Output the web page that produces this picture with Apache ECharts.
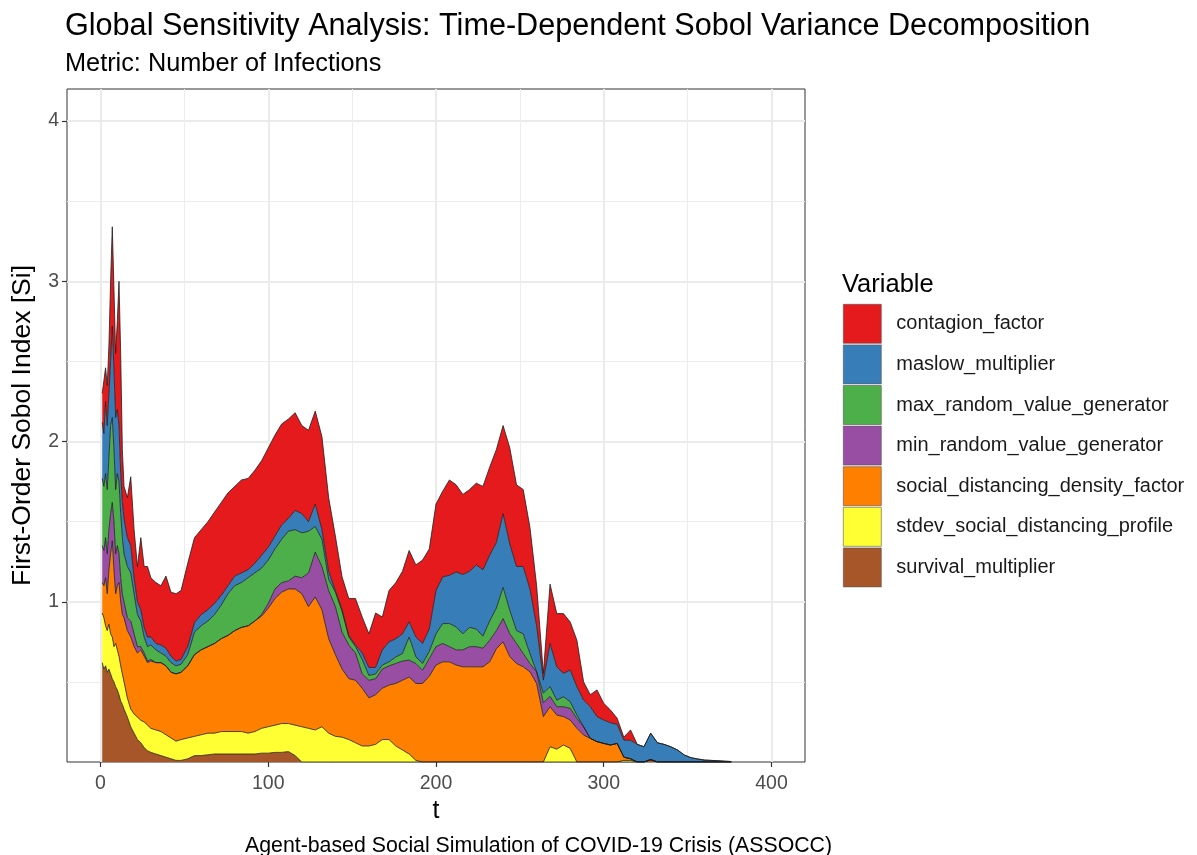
<!DOCTYPE html>
<html>
<head>
<meta charset="utf-8">
<script src="https://cdn.jsdelivr.net/npm/echarts@6.0.0/dist/echarts.min.js"></script>
<style>
html, body { margin: 0; padding: 0; background: #ffffff; }
#chart { width: 1197px; height: 855px; }
</style>
</head>
<body>
<div id="chart"></div>
<script>
// ---- time steps (t) ----
const tValues = [
  1,2,3,4,5,6,7,8,9,10,11,12,13,14,
  16,18,20,22,24,26,28,30,
  33,36,39,42,45,48,
  52,56,60,64,68,72,76,80,84,88,92,96,
  100,104,108,112,116,120,124,128,132,136,140,144,
  148,152,156,160,164,168,172,176,180,184,188,192,
  196,200,204,208,212,216,220,224,228,232,236,240,
  244,248,252,256,260,264,268,272,276,280,284,288,
  292,296,300,304,308,312,316,320,324,328,332,336,
  340,344,348,352,356,360,364,368,372,376
];

// ---- first-order Sobol index per variable ----
const survivalMultiplier = [
  .62,.58,.60,.56,.58,.55,.52,.50,.47,.45,.42,.38,.36,.33,
  .28,.22,.18,.14,.12,.09,.07,.06,
  .05,.04,.03,.02,.01,.01,
  .02,.04,.04,.045,.05,.05,.05,.05,.05,.05,.05,.055,
  .055,.06,.06,.065,.04,0,0,0,0,0,0,0,
  0,0,0,0,0,0,0,0,0,0,0,0,
  0,0,0,0,0,0,0,0,0,0,0,0,
  0,0,0,0,0,0,0,0,0,0,0,0,
  0,0,0,0,0,0,0,0,0,.015,0,0,
  0,0,0,0,0,0,0,0,0,0
];
const stdevSocialDistancingProfile = [
  .31,.32,.25,.26,.28,.25,.26,.22,.27,.25,.24,.22,.19,.17,
  .12,.11,.12,.14,.14,.16,.16,.15,
  .15,.15,.14,.13,.12,.13,
  .13,.12,.13,.135,.13,.14,.14,.14,.14,.13,.14,.155,
  .165,.17,.18,.175,.19,.22,.21,.20,.22,.18,.16,.155,
  .14,.12,.10,.10,.11,.14,.14,.10,.075,.05,.01,0,
  0,0,0,0,0,0,0,0,0,0,0,0,
  0,0,0,0,0,0,.095,.08,.106,.085,0,0,
  0,0,0,0,0,.01,.01,0,0,0,0,0,
  0,0,0,0,0,0,0,0,0,0
];
const socialDistancingDensityFactor = [
  .19,.20,.30,.23,.34,.50,.60,.48,.31,.40,.46,.40,.37,.40,
  .42,.45,.42,.40,.44,.41,.39,.42,
  .42,.43,.43,.41,.42,.42,
  .45,.51,.53,.54,.56,.58,.60,.63,.65,.67,.69,.70,
  .74,.79,.82,.84,.85,.83,.76,.83,.73,.59,.51,.425,
  .38,.39,.36,.30,.31,.32,.34,.39,.435,.48,.48,.49,
  .535,.605,.625,.625,.605,.594,.594,.594,.594,.625,.707,.75,
  .657,.615,.594,.563,.49,.283,.25,.213,.177,.177,.21,.168,
  .147,.127,.116,.106,.116,.02,.01,0,0,0,0,0,
  0,0,0,0,0,0,0,0,0,0
];
const minRandomValueGenerator = [
  .23,.22,.25,.25,.25,.25,.24,.30,.25,.25,.18,.15,.13,.10,
  .08,.10,.08,.04,.02,.02,.01,.01,
  0,0,0,0,0,0,
  0,0,0,0,0,0,0,0,0,0,0,.01,
  .03,.06,.06,.05,.08,.10,.21,.28,.27,.30,.30,.23,
  .21,.17,.09,.11,.10,.12,.12,.125,.12,.106,.125,.083,
  .111,.115,.115,.095,.095,.106,.126,.126,.116,.135,.113,.145,
  .143,.125,.083,.052,.073,.087,.065,.052,.062,.073,.062,.052,
  0,0,0,0,0,0,0,0,0,0,0,0,
  0,0,0,0,0,0,0,0,0,0
];
const maxRandomValueGenerator = [
  .42,.40,.40,.40,.45,.55,.53,.45,.40,.45,.45,.40,.35,.30,
  .32,.30,.25,.20,.16,.10,.09,.09,
  .08,.06,.06,.06,.05,.05,
  .07,.14,.15,.16,.18,.21,.26,.28,.28,.30,.30,.29,
  .27,.25,.27,.31,.29,.28,.26,.16,.17,.07,.09,.13,
  .05,.04,.09,.03,.03,.025,.025,.04,.047,.144,.041,.042,
  .044,.08,.124,.144,.143,.10,.12,.11,.075,.12,.14,.195,
  .147,.08,.123,.062,0,.06,.06,.041,.062,.041,.021,0,
  0,0,0,0,0,0,0,0,0,0,0,0,
  0,0,0,0,0,0,0,0,0,0
];
const maslowMultiplier = [
  .35,.33,.45,.40,.40,.40,.57,.50,.45,.40,.35,.25,.22,.22,
  .18,.17,.10,.08,.07,.06,.06,.05,
  .04,.05,.05,.04,.03,.03,
  .05,.06,.07,.07,.07,.06,.05,.06,.06,.05,.06,.08,
  .08,.08,.09,.08,.12,.12,.06,.14,.06,.05,.01,.01,
  .01,.01,.04,.05,.04,.095,.125,.114,.123,.095,.124,.125,
  .14,.27,.291,.301,.343,.37,.35,.40,.415,.41,.41,.46,
  .413,.40,.42,.403,.287,.081,.27,.208,.146,.198,.177,.166,
  .198,.156,.146,.139,.119,.107,.115,.11,.095,.165,.12,.11,
  .095,.075,.044,.027,.019,.012,.01,.008,.005,.003
];
const contagionFactor = [
  .18,.33,.21,.25,.30,.50,.62,.50,.40,.55,.90,.75,.33,.20,
  .25,.43,.30,.22,.45,.38,.44,.37,
  .38,.37,.45,.40,.42,.43,
  .52,.53,.53,.55,.57,.58,.58,.56,.58,.57,.58,.59,
  .62,.63,.63,.62,.61,.55,.57,.58,.58,.46,.34,.205,
  .23,.29,.225,.21,.34,.205,.32,.35,.39,.445,.45,.52,
  .50,.54,.535,.595,.544,.50,.51,.51,.52,.55,.58,.55,
  .60,.51,.48,.385,.25,.042,.37,.332,.373,.30,.29,.114,
  .075,.167,.104,.08,.038,.018,.065,0,0,0,0,0,
  0,0,0,0,0,0,0,0,0,0
];

// ---- labels ----
const variableNames = [
  'contagion_factor', 'maslow_multiplier', 'max_random_value_generator',
  'min_random_value_generator', 'social_distancing_density_factor',
  'stdev_social_distancing_profile', 'survival_multiplier'
];
const xTickValues = [0, 100, 200, 300, 400];
const xMinorValues = [50, 150, 250, 350];
const yTickValues = [1, 2, 3, 4];
const yMinorValues = [0.5, 1.5, 2.5, 3.5];

const titleText = 'Global Sensitivity Analysis: Time-Dependent Sobol Variance Decomposition';
const subtitleText = 'Metric: Number of Infections';
const captionText = 'Agent-based Social Simulation of COVID-19 Crisis (ASSOCC)';
const legendTitle = 'Variable';
const xTitle = 't';
const yTitle = 'First-Order Sobol Index [Si]';

// ---- build ----
const FONT = "'Liberation Sans', Arial, Helvetica, sans-serif";
const fills = {
  survival_multiplier: '#A65628',
  stdev_social_distancing_profile: '#FFFF33',
  social_distancing_density_factor: '#FF7F00',
  min_random_value_generator: '#984EA3',
  max_random_value_generator: '#4DAF4A',
  maslow_multiplier: '#377EB8',
  contagion_factor: '#E41A1C'
};
// stacking order: bottom first
const stackOrder = [
  ['survival_multiplier', survivalMultiplier],
  ['stdev_social_distancing_profile', stdevSocialDistancingProfile],
  ['social_distancing_density_factor', socialDistancingDensityFactor],
  ['min_random_value_generator', minRandomValueGenerator],
  ['max_random_value_generator', maxRandomValueGenerator],
  ['maslow_multiplier', maslowMultiplier],
  ['contagion_factor', contagionFactor]
];

// value first, t second, so that the stack is computed on the y (value) dimension
const series = stackOrder.map(([name, vals]) => ({
  name: name,
  type: 'line',
  stack: 'total',
  xAxisIndex: 0,
  yAxisIndex: 0,
  data: tValues.map((t, i) => [vals[i], t]),
  encode: { x: 1, y: 0 },
  symbol: 'none',
  showSymbol: false,
  smooth: false,
  lineStyle: { color: '#1e1e1e', width: 0.8 },
  areaStyle: { color: fills[name], opacity: 1 },
  itemStyle: { color: fills[name] },
  emphasis: { disabled: true },
  silent: true
}));

const majorGrid = { show: true, lineStyle: { color: '#ebebeb', width: 2 } };
const minorGrid = { show: true, lineStyle: { color: '#ededed', width: 1.1 } };

const chart = echarts.init(document.getElementById('chart'), null, { renderer: 'canvas' });
chart.setOption({
  animation: false,
  backgroundColor: '#ffffff',
  textStyle: { fontFamily: FONT },
  title: [
    { text: titleText, left: 65, top: 11, padding: 0,
      textStyle: { fontSize: 30.6, fontWeight: 'normal', color: '#000', fontFamily: FONT } },
    { text: subtitleText, left: 65, top: 52, padding: 0,
      textStyle: { fontSize: 25.3, fontWeight: 'normal', color: '#000', fontFamily: FONT } },
    { text: legendTitle, left: 842, top: 272, padding: 0,
      textStyle: { fontSize: 25.5, fontWeight: 'normal', color: '#000', fontFamily: FONT } },
    { text: captionText, left: 245, top: 836, padding: 0,
      textStyle: { fontSize: 21.3, fontWeight: 'normal', color: '#000', fontFamily: FONT } }
  ],
  legend: {
    data: variableNames,
    orient: 'vertical',
    left: 843,
    top: 304,
    padding: 0,
    icon: 'rect',
    itemWidth: 38,
    itemHeight: 39,
    itemGap: 1,
    selectedMode: false,
    itemStyle: { borderColor: '#555555', borderWidth: 0.6 },
    textStyle: { fontSize: 20, color: '#1a1a1a', fontFamily: FONT, padding: [0, 0, 0, 10] }
  },
  grid: {
    left: 67, top: 89, width: 738, height: 673,
    show: true, borderColor: '#333333', borderWidth: 1, backgroundColor: 'transparent'
  },
  xAxis: [
    {
      type: 'value', min: -20, max: 420,
      name: xTitle, nameLocation: 'middle', nameGap: 34,
      nameTextStyle: { fontSize: 25, color: '#000', fontFamily: FONT },
      axisLine: { show: false, onZero: false },
      axisTick: { show: true, length: 5, customValues: xTickValues, lineStyle: { color: '#333', width: 1.2 } },
      axisLabel: { show: true, customValues: xTickValues, margin: 12, fontSize: 19.5, color: '#4d4d4d', fontFamily: FONT },
      splitLine: majorGrid
    },
    {
      type: 'value', min: -20, max: 420, position: 'bottom',
      axisLine: { show: false, onZero: false },
      axisTick: { show: false, customValues: xMinorValues },
      axisLabel: { show: false, customValues: xMinorValues },
      splitLine: minorGrid
    }
  ],
  yAxis: [
    {
      type: 'value', min: 0, max: 4.2, position: 'left',
      name: yTitle, nameLocation: 'middle', nameGap: 31, nameRotate: 90,
      nameTextStyle: { fontSize: 26.5, color: '#000', fontFamily: FONT },
      axisLine: { show: false, onZero: false },
      axisTick: { show: true, length: 5, customValues: yTickValues, lineStyle: { color: '#333', width: 1.2 } },
      axisLabel: { show: true, customValues: yTickValues, margin: 8, fontSize: 19.5, color: '#4d4d4d', fontFamily: FONT },
      splitLine: majorGrid
    },
    {
      type: 'value', min: 0, max: 4.2, position: 'left',
      axisLine: { show: false, onZero: false },
      axisTick: { show: false, customValues: yMinorValues },
      axisLabel: { show: false, customValues: yMinorValues },
      splitLine: minorGrid
    }
  ],
  series: series
});
</script>
</body>
</html>
